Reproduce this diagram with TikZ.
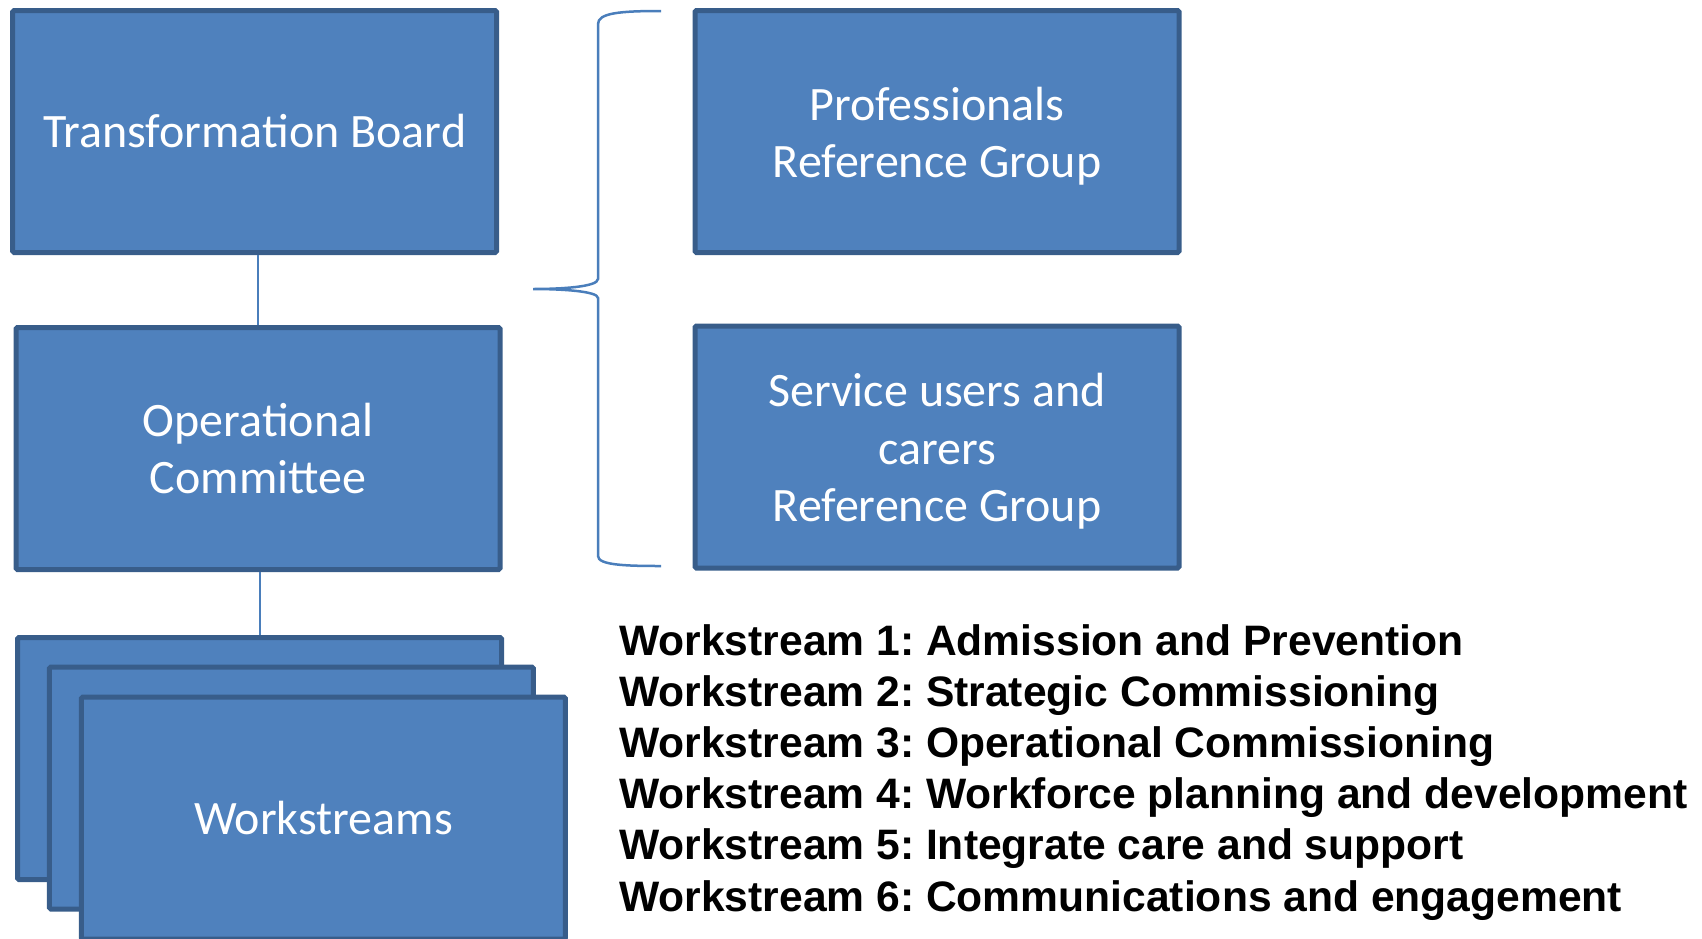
\documentclass[tikz,border=0pt]{standalone}
\usepackage{fontspec}
\setmainfont{Carlito}
\newfontfamily\listfont{Liberation Sans}
\definecolor{boxfill}{HTML}{4F81BD}
\definecolor{boxline}{HTML}{385D8A}
\definecolor{conn}{HTML}{4A7EBB}
\frenchspacing
\begin{document}
\begin{tikzpicture}[x=1pt,y=-1pt,
  orgbox/.style={draw=boxline, fill=boxfill, line width=5pt, rounded corners=1.5pt,
    minimum width=484pt, minimum height=242pt, inner sep=0pt, text=white,
    align=center, font=\fontsize{48}{57.5}\selectfont},
  boxtext/.style={inner sep=0pt, text=white, align=center,
    font=\fontsize{48}{57.5}\selectfont},
  link/.style={draw=conn, line width=2pt},
  bracepath/.style={draw=conn, line width=2.5pt},
  wslist/.style={anchor=base west, inner sep=0pt, text=black,
    font=\listfont\bfseries\fontsize{42.6}{51.2}\selectfont}]
\useasboundingbox (0,0) rectangle (1702,938);
\clip (0,0) rectangle (1702,938);

% left column
\node[orgbox] (tb) at (254.7,131.5) {Transformation Board};
\node[orgbox] (oc) at (258,448.5) {Operational\\Committee};
\node[orgbox] (ws1) at (259.5,758.5) {};
\node[orgbox] (ws2) at (291.4,788) {};
\node[orgbox] (ws3) at (323.4,818) {Workstreams};

% connectors
\draw[link] (oc.north |- tb.south) -- (oc.north);
\draw[link] (ws1.north |- oc.south) -- (ws1.north);

% right column
\node[orgbox] (prg) at (937,131.5) {};
\node[boxtext] (prgt) at ([yshift=-4.5pt]prg.center) {Professionals\\Reference Group};
\node[orgbox] (sug) at (937,447) {};
\node[boxtext] (sugt) at ([yshift=-4.5pt]sug.center) {Service users and\\carers\\Reference Group};

% brace
\draw[bracepath] (661,11) .. controls (620,11) and (598,13) .. (598,24)
  -- (598,279) .. controls (598,287) and (560,289) .. (533,289)
  .. controls (560,289) and (598,291) .. (598,298)
  -- (598,556) .. controls (598,565) and (625,566) .. (661,566);

% workstream list
\node[wslist] (l1) at (619,655) {Workstream 1: Admission and Prevention};
\node[wslist] (l2) at (619,706.2) {Workstream 2: Strategic Commissioning};
\node[wslist] (l3) at (619,757.4) {Workstream 3: Operational Commissioning};
\node[wslist] (l4) at (619,808.6) {Workstream 4: Workforce planning and development};
\node[wslist] (l5) at (619,859.8) {Workstream 5: Integrate care and support};
\node[wslist] (l6) at (619,911) {Workstream 6: Communications and engagement};
\end{tikzpicture}
\end{document}
